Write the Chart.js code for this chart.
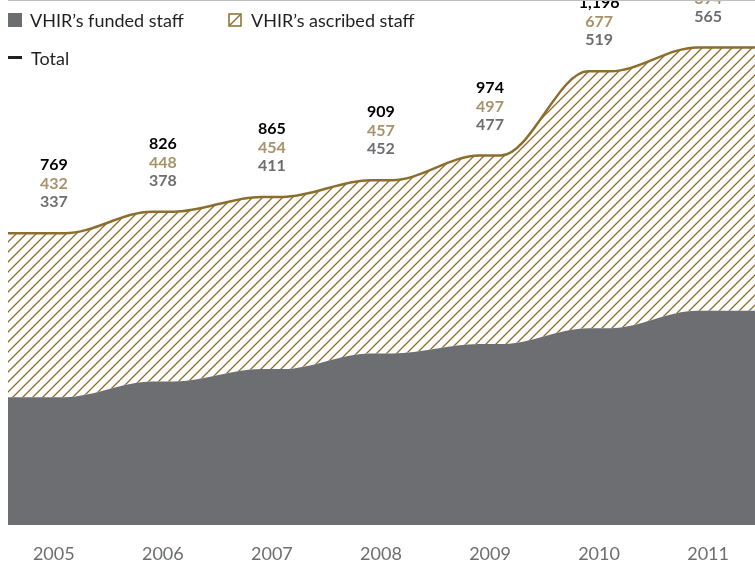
<!DOCTYPE html>
<html>
<head>
<meta charset="utf-8">
<script src="https://cdn.jsdelivr.net/npm/chart.js@4.4.1/dist/chart.umd.min.js"></script>
<style>
  body { margin: 0; background: #fff; }
  #wrap { position: relative; width: 755px; height: 567px; overflow: hidden; }
  .rule { position: absolute; left: 8px; top: 0; width: 747px; height: 1px; background: #bcbec0; }
  .leg { position: absolute; font-family: Lato, sans-serif; font-size: 18px; color: #231f20; line-height: 20px; white-space: nowrap; }
  .sw { position: absolute; }
</style>
</head>
<body>
<div id="wrap">
  <canvas id="staffChart" width="755" height="567"></canvas>
  <div class="rule"></div>
  <div class="sw" style="left:8px;top:13px;width:14px;height:14px;background:#6d6e71"></div>
  <div class="leg" style="left:30px;top:10px">VHIR’s funded staff</div>
  <canvas class="sw" id="hatchBox" width="14" height="14" style="left:228px;top:13px"></canvas>
  <div class="leg" style="left:251px;top:10px">VHIR’s ascribed staff</div>
  <div class="sw" style="left:8px;top:56px;width:14px;height:3px;background:#231f20"></div>
  <div class="leg" style="left:31px;top:48px">Total</div>
</div>
<script>
const years = [2005, 2006, 2007, 2008, 2009, 2010, 2011];
const funded = [337, 378, 411, 452, 477, 519, 565];
const ascribed = [432, 448, 454, 457, 497, 677, 694];
const total = [769, 826, 865, 909, 974, 1196, 1259];

const GREY = '#6d6e71';
const GOLD = '#8b6e2e';
const GOLD_LABEL = '#a8926a';
const X_MIN = 2004.58, X_MAX = 2011.43;
const HALF = 0.1; // plateau half width around each year

// each year's value held flat around the year, curve between years
function plateau(values) {
  const pts = [];
  values.forEach((v, i) => {
    const left = i === 0 ? X_MIN : years[i] - HALF;
    const right = i === values.length - 1 ? X_MAX : years[i] + HALF;
    pts.push({ x: left, y: v });
    pts.push({ x: right, y: v });
  });
  return pts;
}

function hatchPattern(ctx) {
  const c = document.createElement('canvas');
  c.width = 10; c.height = 10;
  const g = c.getContext('2d');
  g.strokeStyle = GOLD;
  g.lineWidth = 1.3;
  g.beginPath();
  g.moveTo(-5, 5); g.lineTo(5, -5);
  g.moveTo(0, 10); g.lineTo(10, 0);
  g.moveTo(5, 15); g.lineTo(15, 5);
  g.stroke();
  return ctx.createPattern(c, 'repeat');
}

// legend swatch for the hatched series
(function () {
  const hb = document.getElementById('hatchBox').getContext('2d');
  hb.fillStyle = '#fff';
  hb.fillRect(0, 0, 14, 14);
  hb.strokeStyle = GOLD;
  hb.lineWidth = 1.5;
  hb.strokeRect(1, 1, 12, 12);
  hb.beginPath();
  hb.moveTo(2, 12); hb.lineTo(12, 2);
  hb.stroke();
})();

const valueLabels = {
  id: 'valueLabels',
  afterDatasetsDraw(chart) {
    const { ctx, scales } = chart;
    ctx.save();
    ctx.textAlign = 'center';
    ctx.textBaseline = 'middle';
    ctx.font = 'bold 16px Lato, sans-serif';
    years.forEach((yr, i) => {
      const x = scales.x.getPixelForValue(yr);
      const y = scales.y.getPixelForValue(total[i]);
      ctx.fillStyle = '#000';
      ctx.fillText(total[i].toLocaleString('en-US'), x, y - 68);
      ctx.fillStyle = GOLD_LABEL;
      ctx.fillText(ascribed[i].toLocaleString('en-US'), x, y - 49);
      ctx.fillStyle = GREY;
      ctx.fillText(funded[i].toLocaleString('en-US'), x, y - 31);
    });
    ctx.restore();
  }
};

const ctx = document.getElementById('staffChart').getContext('2d');
new Chart(ctx, {
  type: 'line',
  data: {
    datasets: [
      {
        label: 'VHIR’s funded staff',
        data: plateau(funded),
        stack: 'a',
        fill: 'origin',
        backgroundColor: GREY,
        borderWidth: 0,
        pointRadius: 0,
        cubicInterpolationMode: 'monotone'
      },
      {
        label: 'VHIR’s ascribed staff',
        data: plateau(ascribed),
        stack: 'a',
        fill: '-1',
        backgroundColor: hatchPattern(ctx),
        borderWidth: 0,
        pointRadius: 0,
        cubicInterpolationMode: 'monotone'
      },
      {
        label: 'Total',
        data: plateau(total),
        stack: 'b',
        fill: false,
        borderColor: GOLD,
        borderWidth: 2.5,
        pointRadius: 0,
        cubicInterpolationMode: 'monotone'
      }
    ]
  },
  options: {
    responsive: false,
    animation: false,
    devicePixelRatio: 1,
    layout: { padding: { left: 8, right: 0, top: 0, bottom: 0 } },
    plugins: {
      legend: { display: false },
      tooltip: { enabled: false }
    },
    scales: {
      x: {
        type: 'linear',
        min: X_MIN,
        max: X_MAX,
        afterBuildTicks: axis => { axis.ticks = years.map(v => ({ value: v })); },
        afterFit: axis => { axis.height = 42; },
        grid: { display: false, drawTicks: false },
        border: { display: false },
        ticks: {
          callback: v => String(v),
          color: GREY,
          font: { family: 'Lato, sans-serif', size: 18 },
          padding: 18,
          maxRotation: 0,
          autoSkip: false
        }
      },
      y: {
        display: false,
        stacked: true,
        min: 0,
        max: 1384
      }
    }
  },
  plugins: [valueLabels]
});
</script>
</body>
</html>
